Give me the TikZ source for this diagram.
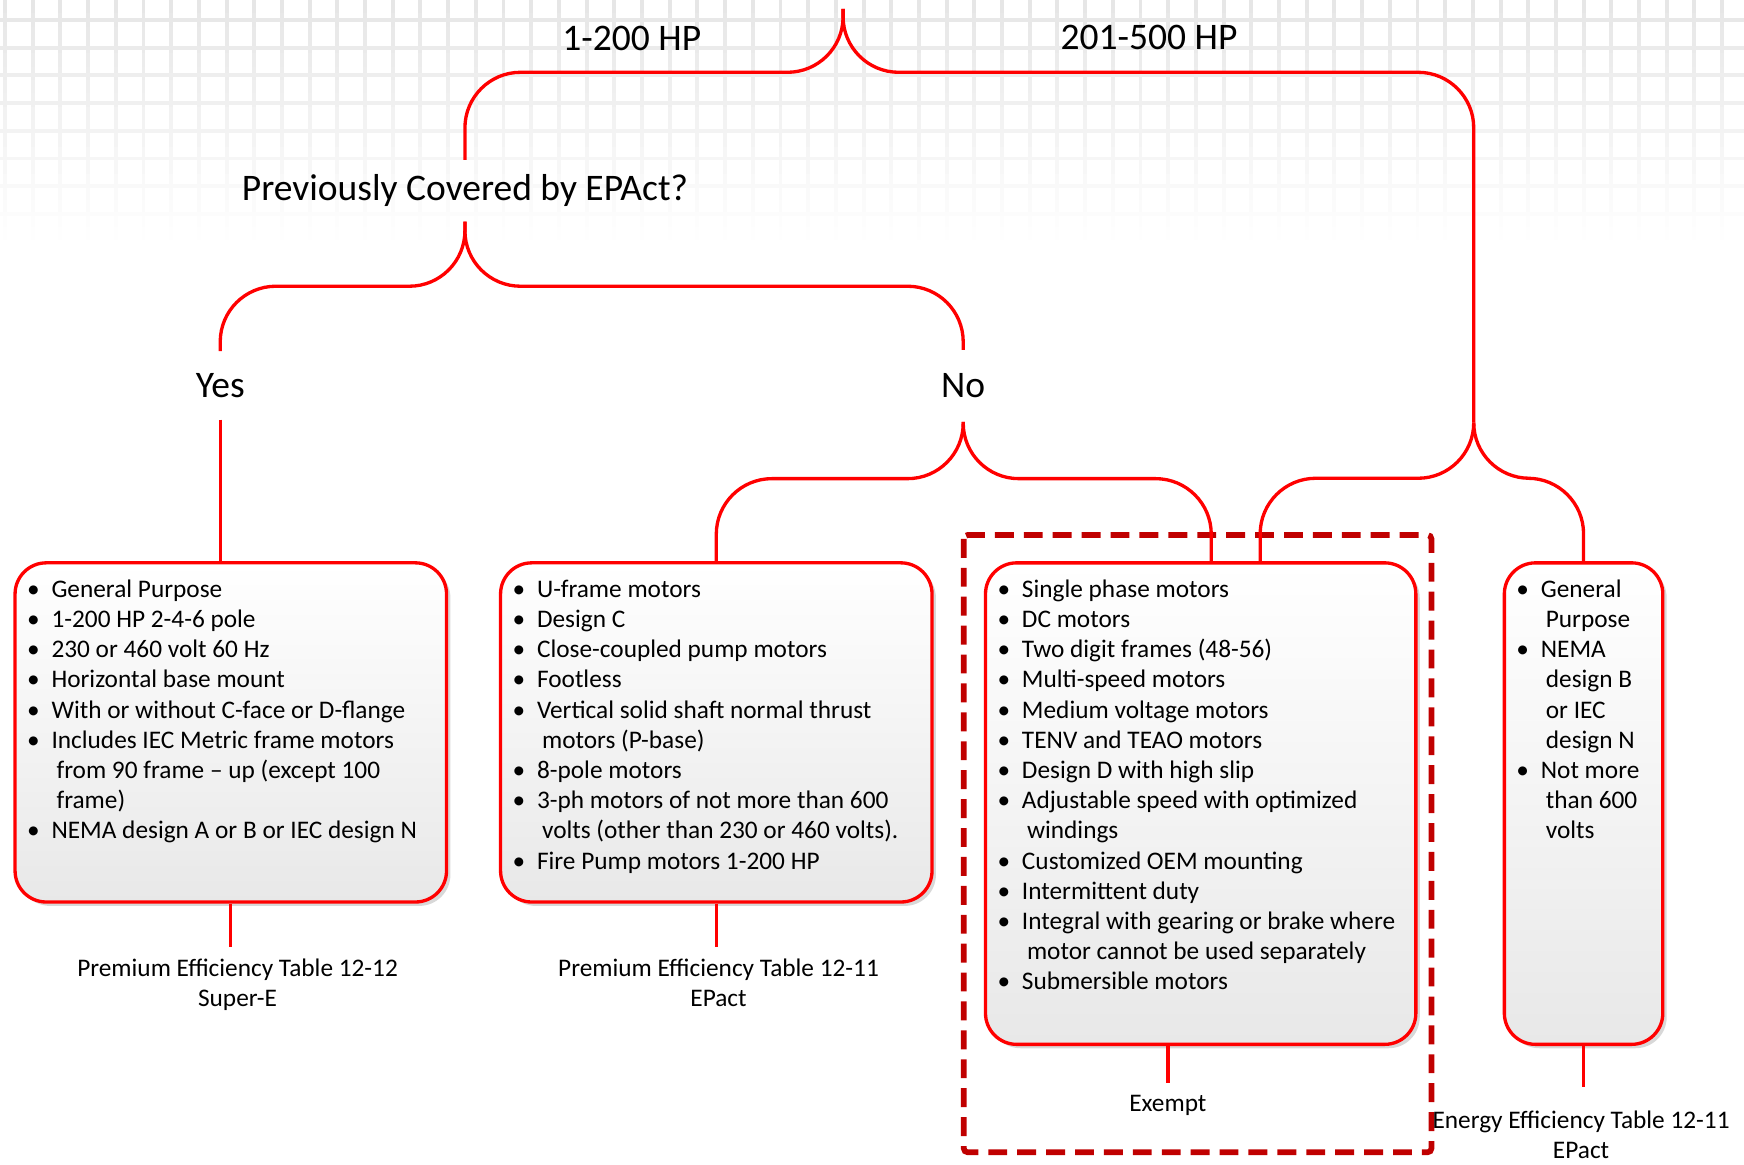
\documentclass[tikz,border=0pt]{standalone}
\usepackage{fontspec}
\setmainfont{Carlito}
\usetikzlibrary{shadows}
\definecolor{linkred}{HTML}{FF0000}
\definecolor{exred}{HTML}{C00000}
\def\bl{\makebox[0.44cm][l]{\textbullet}}
\def\hg{\hspace*{0.53cm}}
\tikzset{
	link/.style={draw=linkred, line width=1.7pt, rounded corners=1cm},
	card/.style={draw=linkred, line width=1.7pt, rounded corners=0.56cm, top color=white, bottom color=black!9, inner sep=0pt,
		drop shadow={shadow xshift=0.07cm, shadow yshift=-0.07cm, fill=black!30, opacity=0.5}},
	cardtext/.style={anchor=base west, inner sep=0pt, font=\fontsize{12.95}{15.45}\selectfont},
	head/.style={inner sep=0pt, font=\fontsize{19.2}{23}\selectfont},
	note/.style={align=center, inner xsep=0pt, inner ysep=6pt, font=\fontsize{12.95}{15.45}\selectfont},
	exempt/.style={draw=exred, line width=2.9pt, dash pattern=on 0.34cm off 0.18cm, rounded corners=2pt},
	gridline/.style={line width=2pt},
}

\begin{document}
\begin{tikzpicture}[x=0.02cm, y=-0.02cm]
		%%%%% START %%%%%
		\useasboundingbox (0,0) rectangle (1568,1047);
		
		% grid at the top, fading out downwards
		\foreach \k in {0,...,17} {
			\pgfmathsetmacro\gs{10*(1-(\k+0.5)/18)}
			\draw[gridline, draw=black!\gs] \foreach \x in {0,...,62} {({4.5+24.9*\x},{12*\k}) -- ++(0,12)};
		}
		\foreach \j in {0,...,7} {
			\pgfmathsetmacro\gs{10*(1-(18+24.9*\j)/216)}
			\draw[gridline, draw=black!\gs] (0,{18+24.9*\j}) -- (1568,{18+24.9*\j});
		}
		
		\draw[exempt] (866.5,481) rectangle (1287,1036);
		
		\coordinate (hp) at (758,8);
		\coordinate (split) at (1325,380);
		\node[head] (hp1) at (568,35) {1-200 HP};
		\node[head] (hp2) at (1033,34) {201-500 HP};
		\node[head, minimum height=1.1cm] (prev) at (418,171.5) {Previously Covered by EPAct?};
		\node[head, minimum height=1.22cm] (yes) at (198,346.5) {Yes};
		\node[head, minimum height=1.28cm] (no) at (866,347) {No};
		
		\node[card, minimum width=7.76cm, minimum height=6.1cm] (b1) at (207.5,658.5) {};
		\node[card, minimum width=7.76cm, minimum height=6.1cm] (b2) at (644,658.5) {};
		\node[card, minimum width=7.74cm, minimum height=8.66cm] (b3) at (1079.5,722.5) {};
		\node[card, minimum width=2.85cm, minimum height=8.66cm] (b4) at (1423.75,722.5) {};
		
		\node[cardtext] (b1txt) at (24,537) {\parbox[t]{7.5cm}{\raggedright
			\bl General Purpose\\
			\bl 1-200 HP 2-4-6 pole\\
			\bl 230 or 460 volt 60 Hz\\
			\bl Horizontal base mount\\
			\bl With or without C-face or D-flange\\
			\bl Includes IEC Metric frame motors\\
			\hg from 90 frame -- up (except 100\\
			\hg frame)\\
			\bl NEMA design A or B or IEC design N}};
		\node[cardtext] (b2txt) at (460.5,537) {\parbox[t]{7.5cm}{\raggedright
			\bl U-frame motors\\
			\bl Design C\\
			\bl Close-coupled pump motors\\
			\bl Footless\\
			\bl Vertical solid shaft normal thrust\\
			\hg motors (P-base)\\
			\bl 8-pole motors\\
			\bl 3-ph motors of not more than 600\\
			\hg volts (other than 230 or 460 volts).\\
			\bl Fire Pump motors 1-200 HP}};
		\node[cardtext] (b3txt) at (896.5,537) {\parbox[t]{7.5cm}{\raggedright
			\bl Single phase motors\\
			\bl DC motors\\
			\bl Two digit frames (48-56)\\
			\bl Multi-speed motors\\
			\bl Medium voltage motors\\
			\bl TENV and TEAO motors\\
			\bl Design D with high slip\\
			\bl Adjustable speed with optimized\\
			\hg windings\\
			\bl Customized OEM mounting\\
			\bl Intermittent duty\\
			\bl Integral with gearing or brake where\\
			\hg motor cannot be used separately\\
			\bl Submersible motors}};
		\node[cardtext] (b4txt) at (1363,537) {\parbox[t]{2.7cm}{\raggedright
			\bl General\\
			\hg Purpose\\
			\bl NEMA\\
			\hg design B\\
			\hg or IEC\\
			\hg design N\\
			\bl Not more\\
			\hg than 600\\
			\hg volts}};
		
		\node[note] (l1) at (213.6,885.5) {Premium Efficiency Table 12-12\\Super-E};
		\node[note] (l2) at (646,883.5) {Premium Efficiency Table 12-11\\EPact};
		\node[note] (l3) at (1050,994) {Exempt};
		\node[note, inner ysep=12pt] (l4) at (1421.5,1020) {Energy Efficiency Table 12-11\\EPact};
		
		% braces
		\draw[link] (hp) -- ++(0,57) -| (prev.north);
		\draw[link] (hp) -- ++(0,57) -| (split);
		\draw[link] (split) -- ++(0,50) -| (1133,0 |- b3.north);
		\draw[link] (split) -- ++(0,50) -| (b4.north);
		\draw[link] (prev.south) -- ++(0,58) -| (yes.north);
		\draw[link] (prev.south) -- ++(0,58) -| (no.north);
		\draw[link] (yes.south) -- (yes.south |- b1.north);
		\draw[link] (no.south) -- ++(0,51) -| (b2.north);
		\draw[link] (no.south) -- ++(0,51) -| (1089,0 |- b3.north);
		
		\draw[link] (b1.south) -- (b1.south |- l1.north);
		\draw[link] (b2.south) -- (b2.south |- l2.north);
		\draw[link] (l3.north |- b3.south) -- (l3.north);
		\draw[link] (b4.south) -- (b4.south |- l4.north);
		
		%%%%% END %%%%%
	\end{tikzpicture}
\end{document}
